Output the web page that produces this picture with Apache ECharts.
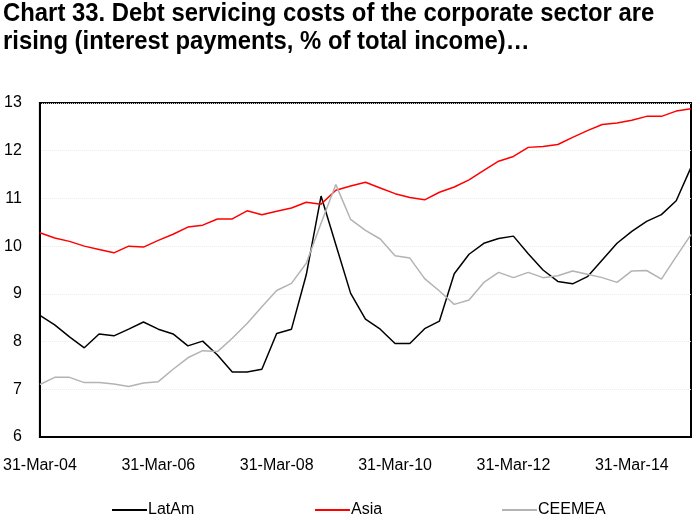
<!DOCTYPE html>
<html><head><meta charset="utf-8">
<script src="https://cdn.jsdelivr.net/npm/echarts@6/dist/echarts.min.js"></script>
<style>html,body{margin:0;padding:0;background:#fff}#c{width:700px;height:525px}</style>
</head><body><div id="c"></div>
<script>
const categories = [
"31-Mar-04","30-Jun-04","30-Sep-04","31-Dec-04",
"31-Mar-05","30-Jun-05","30-Sep-05","31-Dec-05",
"31-Mar-06","30-Jun-06","30-Sep-06","31-Dec-06",
"31-Mar-07","30-Jun-07","30-Sep-07","31-Dec-07",
"31-Mar-08","30-Jun-08","30-Sep-08","31-Dec-08",
"31-Mar-09","30-Jun-09","30-Sep-09","31-Dec-09",
"31-Mar-10","30-Jun-10","30-Sep-10","31-Dec-10",
"31-Mar-11","30-Jun-11","30-Sep-11","31-Dec-11",
"31-Mar-12","30-Jun-12","30-Sep-12","31-Dec-12",
"31-Mar-13","30-Jun-13","30-Sep-13","31-Dec-13",
"31-Mar-14","30-Jun-14","30-Sep-14","31-Dec-14",
"31-Mar-15"];
const latam = [8.55,8.35,8.10,7.87,8.16,8.12,8.26,8.41,8.26,8.16,7.91,8.01,7.72,7.36,7.36,7.42,8.17,8.26,9.40,11.05,10.03,9.01,8.47,8.26,7.96,7.96,8.27,8.43,9.42,9.83,10.06,10.16,10.21,9.84,9.50,9.26,9.21,9.36,9.71,10.06,10.31,10.52,10.66,10.95,11.65];
const asia = [10.28,10.17,10.10,10.00,9.93,9.86,10.00,9.98,10.12,10.25,10.40,10.44,10.57,10.57,10.74,10.66,10.73,10.80,10.92,10.88,11.17,11.26,11.34,11.22,11.10,11.02,10.97,11.13,11.24,11.39,11.59,11.78,11.88,12.07,12.09,12.13,12.28,12.42,12.55,12.58,12.64,12.72,12.72,12.83,12.88];
const ceemea = [7.10,7.25,7.25,7.14,7.14,7.11,7.06,7.13,7.16,7.42,7.66,7.81,7.79,8.07,8.38,8.73,9.07,9.22,9.64,10.48,11.29,10.56,10.33,10.15,9.80,9.75,9.32,9.06,8.78,8.87,9.24,9.45,9.34,9.45,9.34,9.38,9.48,9.41,9.34,9.24,9.48,9.49,9.31,9.78,10.24];
const titleText = "Chart 33. Debt servicing costs of the corporate sector are\nrising (interest payments, % of total income)\u2026";
const FONT = "'Liberation Sans',Arial,sans-serif";

const chart = echarts.init(document.getElementById('c'), null, {renderer:'canvas'});
function mkLegend(name, left){
  return {data:[name], left:left, top:497, itemWidth:35, itemHeight:10, itemGap:0,
    textStyle:{fontFamily:FONT,fontSize:16,color:'#000',padding:[0,0,0,-4]}, icon:'path://M0,0 L35,0 L35,2 L0,2 Z'};
}
chart.setOption({
  animation:false,
  graphic:[{type:'text',x:3,y:0,scaleX:0.918,silent:true,
    style:{text:titleText,font:"bold 26px 'Liberation Sans',Arial,sans-serif",fill:'#000',lineHeight:28,textVerticalAlign:'top'}}],
  legend:[mkLegend('LatAm',107),mkLegend('Asia',310),mkLegend('CEEMEA',497)],
  grid:{left:37,top:103,right:9,bottom:88,show:true,borderColor:'#000',borderWidth:2,backgroundColor:'transparent'},
  xAxis:{type:'category',data:categories,boundaryGap:false,
    axisLine:{show:true,lineStyle:{color:'#000',width:2}},axisTick:{show:false},
    axisLabel:{interval:7,fontFamily:FONT,fontSize:16,color:'#000',margin:21},
    splitLine:{show:false}},
  yAxis:{type:'value',min:6,max:13,interval:1,
    axisLine:{show:true,lineStyle:{color:'#000',width:2}},axisTick:{show:false},
    axisLabel:{fontFamily:FONT,fontSize:16,color:'#000',margin:18},
    splitLine:{show:true,lineStyle:{color:'#ebebeb',width:1,type:'dotted'}}},
  series:[
    {name:'LatAm',type:'line',data:latam,symbol:'none',lineStyle:{color:'#000',width:1.5},itemStyle:{color:'#000'}},
    {name:'Asia',type:'line',data:asia,symbol:'none',lineStyle:{color:'#ff0000',width:1.5},itemStyle:{color:'#ff0000'}},
    {name:'CEEMEA',type:'line',data:ceemea,symbol:'none',lineStyle:{color:'#b3b3b3',width:1.5},itemStyle:{color:'#b3b3b3'}}
  ]
});
</script></body></html>
